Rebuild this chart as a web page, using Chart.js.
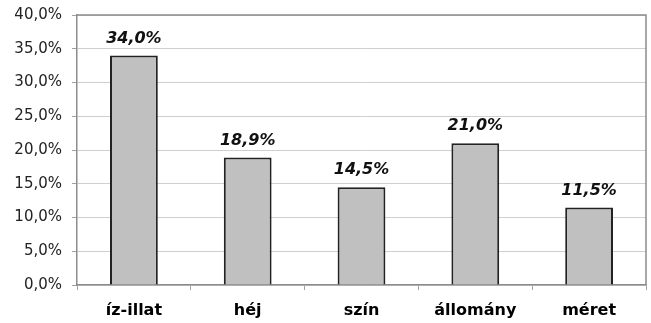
<!DOCTYPE html>
<html>
<head>
<meta charset="utf-8">
<script src="https://cdn.jsdelivr.net/npm/chart.js@4/dist/chart.umd.min.js"></script>
<style>
  html, body { margin: 0; padding: 0; background: #ffffff; }
  #wrap { width: 651px; height: 323px; }
</style>
</head>
<body>
<div id="wrap"><canvas id="c" width="651" height="323"></canvas></div>
<script>
// Share of each quality attribute (percent)
const categories = ['íz-illat', 'héj', 'szín', 'állomány', 'méret'];
const shares = [34.0, 18.9, 14.5, 21.0, 11.5];
const yTicks = [0, 5, 10, 15, 20, 25, 30, 35, 40];

const fmt = v => v.toFixed(1).replace('.', ',') + '%';

// Value labels above each bar
const valueLabels = {
  id: 'valueLabels',
  afterDatasetsDraw(chart) {
    const ctx = chart.ctx;
    const meta = chart.getDatasetMeta(0);
    ctx.save();
    ctx.font = 'italic bold 16px "DejaVu Sans"';
    ctx.fillStyle = '#111';
    ctx.textAlign = 'center';
    ctx.textBaseline = 'middle';
    meta.data.forEach((bar, i) => {
      ctx.fillText(fmt(shares[i]), bar.x, bar.y - 17);
    });
    ctx.restore();
  }
};

// Frame around the plot area
const plotFrame = {
  id: 'plotFrame',
  afterDraw(chart) {
    const a = chart.chartArea;
    const ctx = chart.ctx;
    ctx.save();
    ctx.strokeStyle = '#8c8c8c';
    ctx.lineWidth = 1.5;
    ctx.beginPath();
    ctx.moveTo(a.left, a.top);
    ctx.lineTo(a.right, a.top);
    ctx.lineTo(a.right, a.bottom);
    ctx.stroke();
    ctx.restore();
  }
};

new Chart(document.getElementById('c'), {
  type: 'bar',
  data: {
    labels: categories,
    datasets: [{
      data: shares,
      backgroundColor: '#c0c0c0',
      borderColor: '#222222',
      borderWidth: 2,
      categoryPercentage: 1.0,
      barPercentage: 0.42
    }]
  },
  options: {
    responsive: false,
    animation: false,
    devicePixelRatio: 1,
    layout: { padding: { top: 15, right: 5, left: 0, bottom: 0 } },
    plugins: {
      legend: { display: false },
      tooltip: { enabled: false }
    },
    scales: {
      x: {
        grid: {
          offset: true,
          drawOnChartArea: false,
          drawTicks: true,
          tickLength: 5,
          color: '#a0a0a0'
        },
        border: { display: true, color: '#8c8c8c', width: 1.5 },
        ticks: {
          color: '#000',
          padding: 11,
          font: { family: '"DejaVu Sans"', size: 16, weight: 'bold' }
        },
        afterFit(scale) {
          scale.height = 38;
          scale.paddingLeft = 0;
          scale.paddingRight = 0;
        }
      },
      y: {
        min: 0,
        max: 40,
        afterBuildTicks(scale) { scale.ticks = yTicks.map(v => ({ value: v })); },
        grid: {
          color: '#cfcfcf',
          lineWidth: 1,
          drawTicks: true,
          tickLength: 5,
          tickColor: '#a0a0a0'
        },
        border: { display: true, color: '#8c8c8c', width: 1.5 },
        ticks: {
          color: '#222',
          padding: 10,
          font: { family: '"DejaVu Sans"', size: 15 },
          callback: v => fmt(v)
        },
        afterFit(scale) {
          scale.width = 77;
          scale.paddingTop = 0;
          scale.paddingBottom = 0;
        }
      }
    }
  },
  plugins: [valueLabels, plotFrame]
});
</script>
</body>
</html>
